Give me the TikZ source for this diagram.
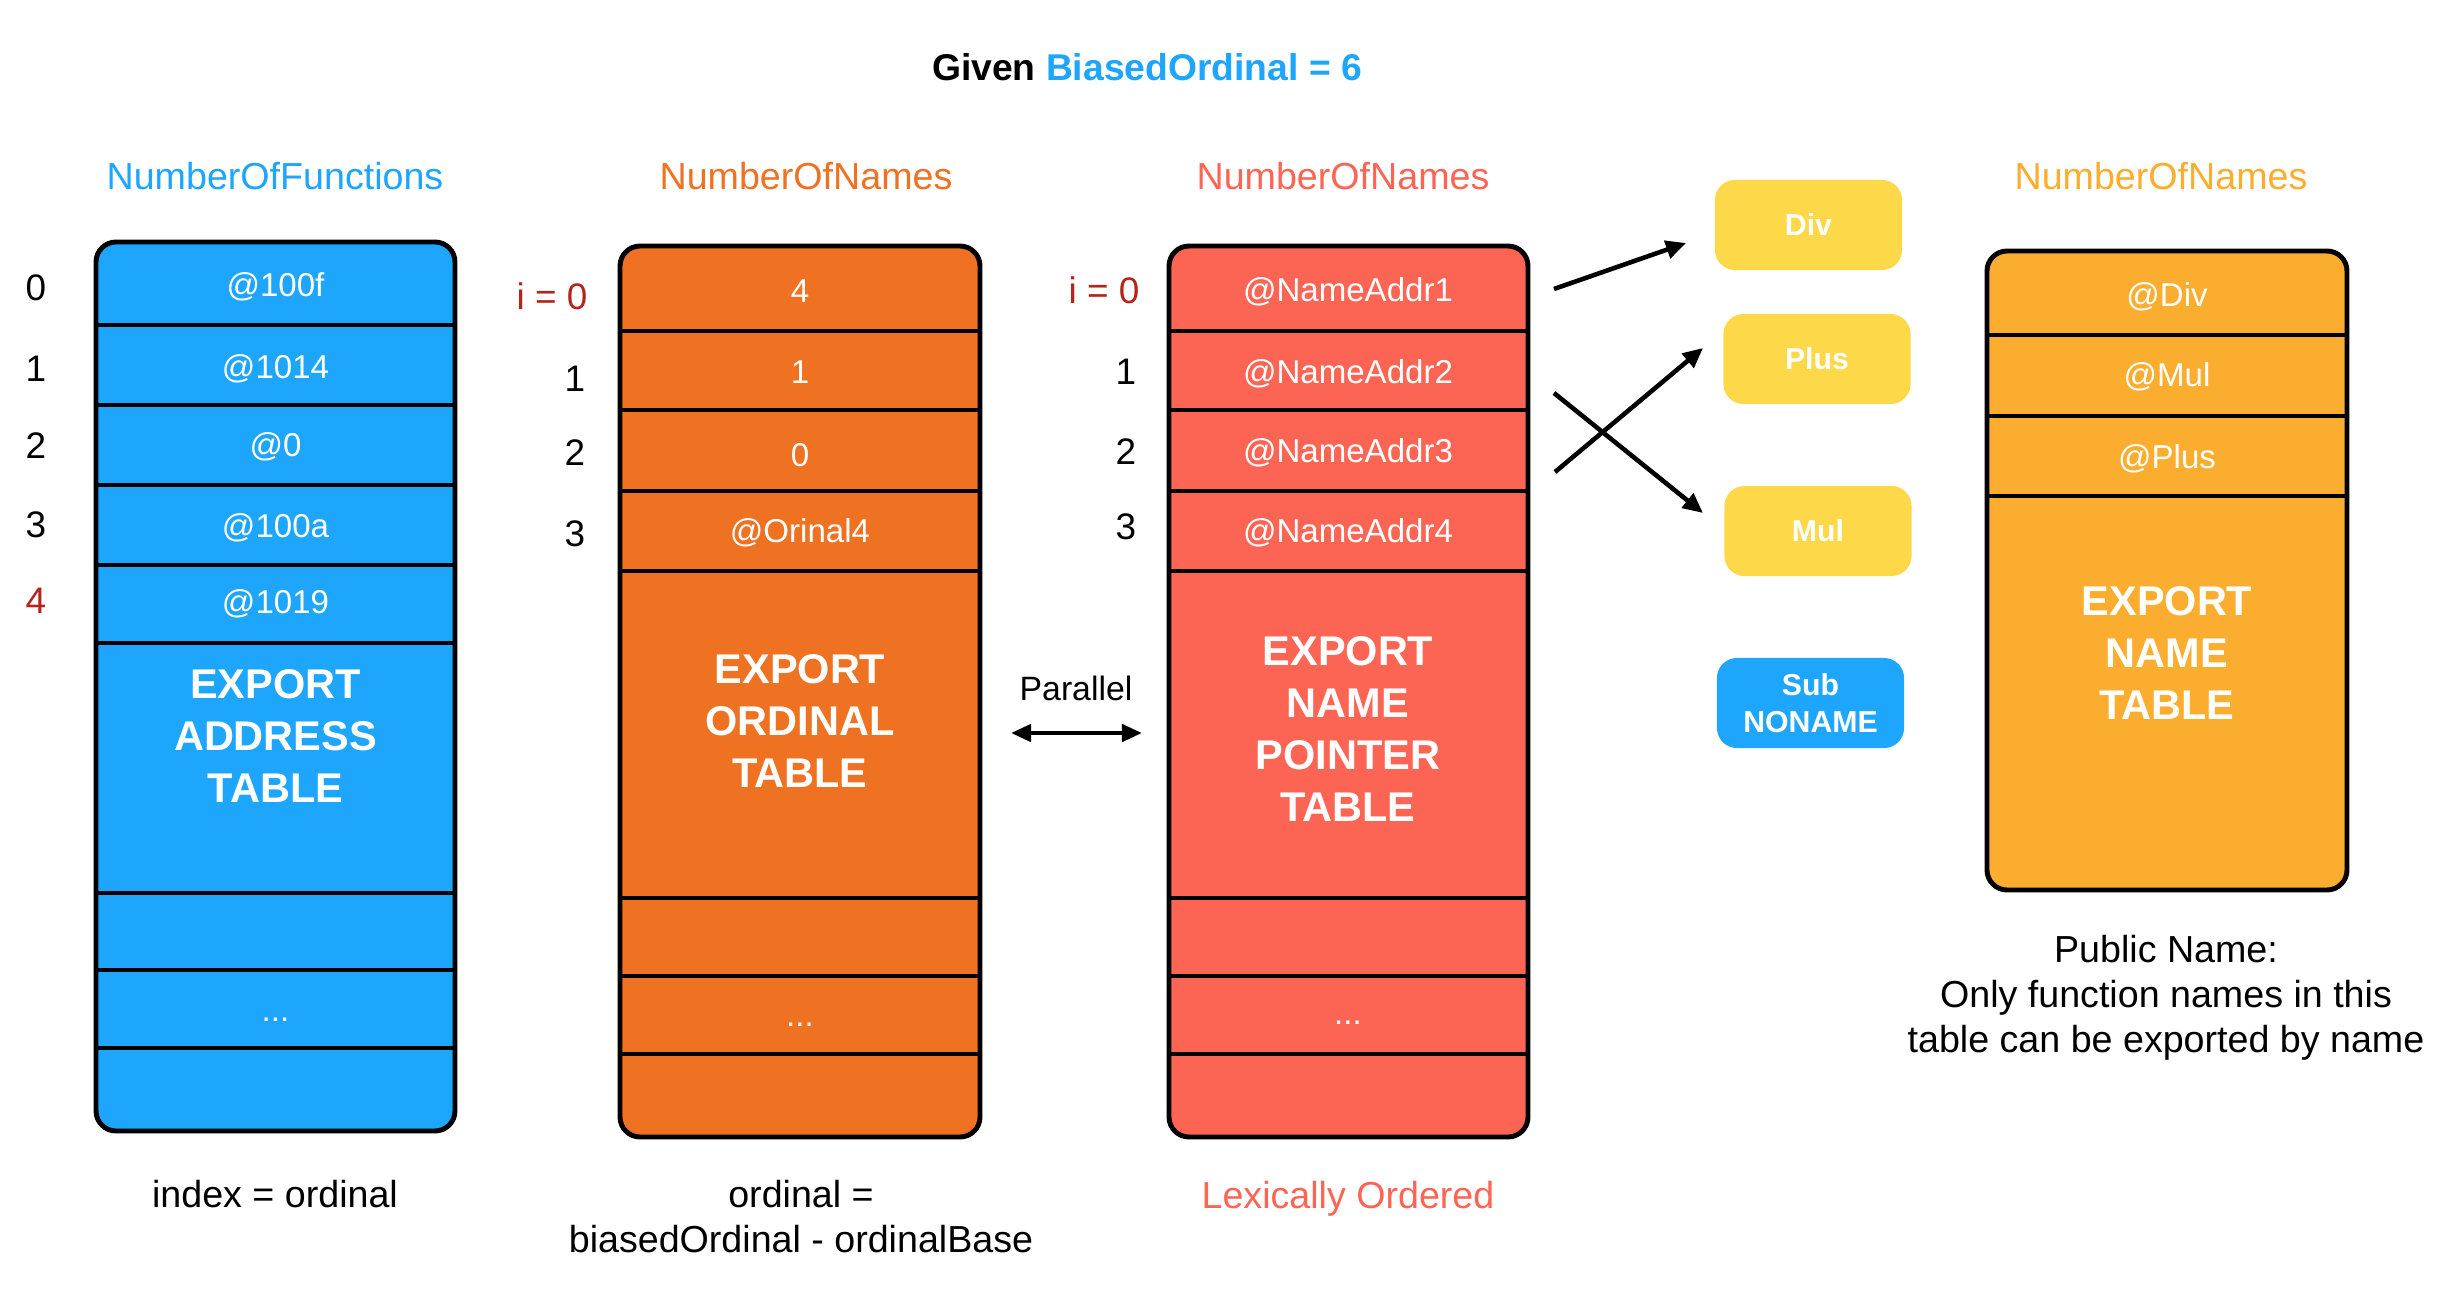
\documentclass[tikz,border=0pt]{standalone}
\usepackage{fontspec}
\setmainfont{Liberation Sans}
\usepackage{xcolor}
\usepackage{tikz}
\usetikzlibrary{arrows.meta}

\definecolor{addrblue}{HTML}{1EA5FC}
\definecolor{ordorange}{HTML}{EF7122}
\definecolor{ptrred}{HTML}{FC6554}
\definecolor{nameyellow}{HTML}{FAAD2E}
\definecolor{fnyellow}{HTML}{FDD848}
\definecolor{idxred}{HTML}{B5231A}

\tikzset{
  frame/.style={draw=black, line width=1.4pt, rounded corners=0.2cm},
  sep/.style={line width=1.4pt},
  cell/.style={text=white, inner sep=0pt, font=\fontsize{9.4}{11}\selectfont},
  big/.style={text=white, inner sep=0pt, align=center, font=\bfseries\fontsize{11.8}{14.7}\selectfont},
  head/.style={inner sep=0pt, font=\fontsize{10.7}{13}\selectfont},
  idx/.style={inner sep=0pt, font=\fontsize{10.5}{12}\selectfont},
  note/.style={inner sep=0pt, align=center, font=\fontsize{10.7}{12.8}\selectfont},
  fnbox/.style={fill=fnyellow, rounded corners=0.2cm, text=white, inner sep=0pt,
    minimum width=1.87cm, minimum height=0.9cm, align=center,
    font=\bfseries\fontsize{8.6}{10.5}\selectfont},
  link/.style={line width=1.3pt, -{Triangle[length=0.2cm,width=0.18cm]}},
}

\begin{document}
\begin{tikzpicture}[x=0.01cm,y=-0.01cm]
  \useasboundingbox (0,0) rectangle (2462,1306);

  \node[inner sep=0pt, font=\bfseries\fontsize{10.6}{13}\selectfont] (title) at (1147,67)
    {Given \textcolor{addrblue}{BiasedOrdinal = 6}};

  % headers
  \node[head, text=addrblue] (hAddr) at (275,176) {NumberOfFunctions};
  \node[head, text=ordorange] (hOrd) at (806,176) {NumberOfNames};
  \node[head, text=ptrred] (hPtr) at (1343,176) {NumberOfNames};
  \node[head, text=nameyellow] (hName) at (2161,176) {NumberOfNames};

  % export address table
  \draw[frame, fill=addrblue] (96,242) rectangle (455,1131);
  \foreach \y in {325,405,485,565,643,893,970,1048}
    \draw[sep] (96,\y) -- (455,\y);
  \foreach \y/\t [count=\i from 0] in {287/@100f,369/@1014,447/@0,528/@100a,604/@1019}
    \node[cell] (a\i) at (275.5,\y) {\t};
  \foreach \y/\t [count=\i from 0] in {288/0,369/1,446/2,525/3}
    \node[idx] (ai\i) at (36,\y) {\t};
  \node[idx, text=idxred] (ai4) at (36,601) {4};
  \node[big] (eat) at (275.5,736) {EXPORT\\ADDRESS\\TABLE};
  \node[cell] (adots) at (275.5,1020) {...};

  % export ordinal table
  \draw[frame, fill=ordorange] (620,246) rectangle (980,1137);
  \foreach \y in {331,410,491,571,898,976,1054}
    \draw[sep] (620,\y) -- (980,\y);
  \foreach \y/\t [count=\i from 0] in {291/4,372/1,455/0,533/@Orinal4}
    \node[cell] (o\i) at (800,\y) {\t};
  \node[idx, text=idxred] (oi0) at (552,296) {i = 0};
  \foreach \y/\t [count=\i from 1] in {379/1,453/2,534/3}
    \node[idx] (oi\i) at (575,\y) {\t};
  \node[big] (eot) at (800,721) {EXPORT\\ORDINAL\\TABLE};
  \node[cell] (odots) at (800,1025) {...};

  % export name pointer table
  \draw[frame, fill=ptrred] (1169,246) rectangle (1528,1137);
  \foreach \y in {331,410,491,571,898,976,1054}
    \draw[sep] (1169,\y) -- (1528,\y);
  \foreach \y [count=\i from 1] in {292,374,453,533}
    \node[cell] (p\i) at (1348,\y) {@NameAddr\i};
  \node[idx, text=idxred] (pi0) at (1104,290) {i = 0};
  \foreach \y/\t [count=\i from 1] in {372/1,452/2,527/3}
    \node[idx] (pi\i) at (1126,\y) {\t};
  \node[big] (enpt) at (1348,729) {EXPORT\\NAME\\POINTER\\TABLE};
  \node[cell] (pdots) at (1348,1023) {...};

  % export name table
  \draw[frame, fill=nameyellow] (1987,251) rectangle (2347,890);
  \foreach \y in {335,416,496}
    \draw[sep] (1987,\y) -- (2347,\y);
  \foreach \y/\t [count=\i from 0] in {297/@Div,377/@Mul,459/@Plus}
    \node[cell] (n\i) at (2167,\y) {\t};
  \node[big] (ent) at (2167,653) {EXPORT\\NAME\\TABLE};

  % function names
  \node[fnbox] (div) at (1808.5,225) {Div};
  \node[fnbox] (plus) at (1817,359) {Plus};
  \node[fnbox] (mul) at (1818,531) {Mul};
  \node[fnbox, fill=addrblue] (sub) at (1810.5,703) {Sub\\NONAME};

  \coordinate (s1) at (1554,289);
  \coordinate (e1) at (1686,243);
  \coordinate (s2) at (1554,393);
  \coordinate (e2) at (1703,513);
  \coordinate (s3) at (1555,472);
  \coordinate (e3) at (1703,348);
  \draw[link] (s1) -- (e1);
  \draw[link] (s2) -- (e2);
  \draw[link] (s3) -- (e3);

  % parallel
  \node[inner sep=0pt, font=\fontsize{9.6}{11}\selectfont] (par) at (1076,688) {Parallel};
  \coordinate (parL) at (1011,733);
  \coordinate (parR) at (1142,733);
  \draw[line width=1.3pt, {Triangle[length=0.2cm,width=0.17cm]}-{Triangle[length=0.2cm,width=0.17cm]}] (parL) -- (parR);

  % notes
  \node[note] (nAddr) at (275,1194) {index = ordinal};
  \node[note] (nOrd) at (801,1217) {ordinal =\\biasedOrdinal - ordinalBase};
  \node[note, text=ptrred] (nPtr) at (1348,1199) {Lexically Ordered};
  \node[note] (nName) at (2166,998) {Public Name:\\Only function names in this\\table can be exported by name};
\end{tikzpicture}
\end{document}
